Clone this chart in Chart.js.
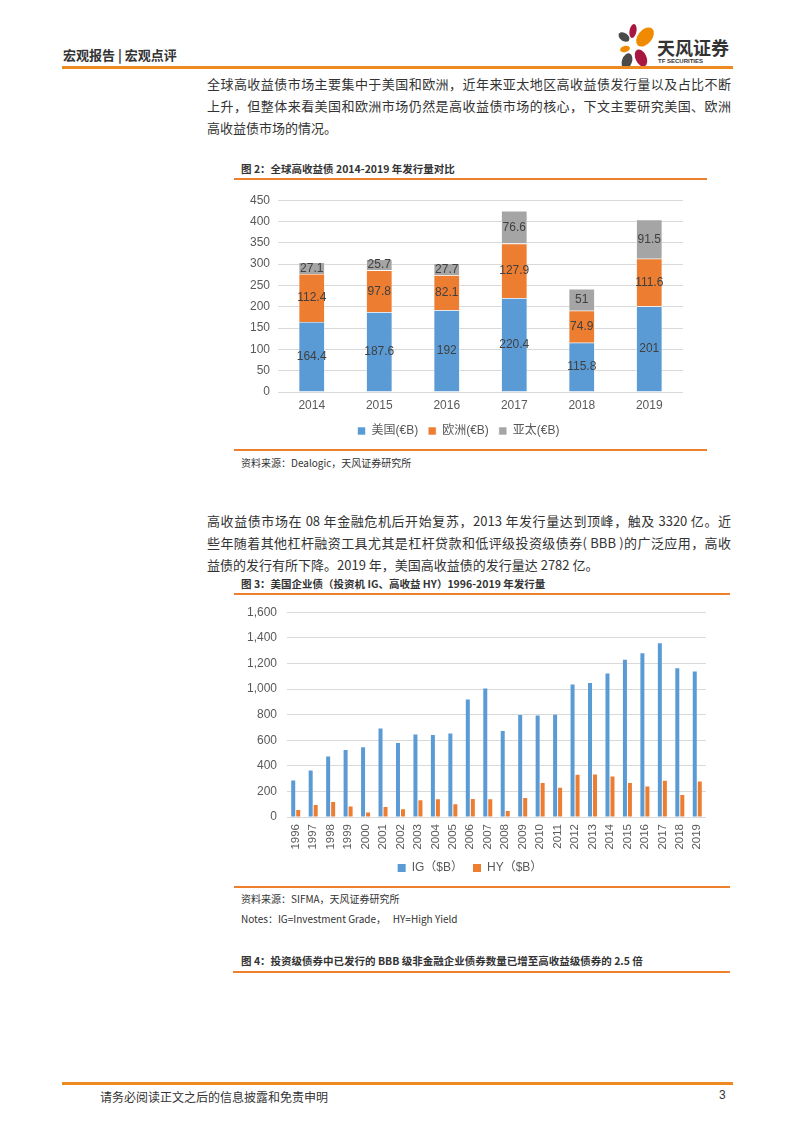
<!DOCTYPE html>
<html>
<head>
<meta charset="utf-8">
<script src="https://cdn.jsdelivr.net/npm/chart.js"></script>
<style>
  body { margin: 0; background: #fff; font-family: "Noto Sans CJK SC", sans-serif; color: #333; }
  #page { position: relative; width: 793px; height: 1122px; overflow: hidden; }
  .abs { position: absolute; }
  .hline { position: absolute; background: #EE7F2D; }
  .p { position: absolute; left: 207px; width: 524px; font-size: 13px; line-height: 22px; white-space: nowrap; }
  .j { text-align: justify; text-align-last: justify; white-space: normal; }
  .ttl { position: absolute; left: 241px; font-size: 10.5px; font-weight: bold; color: #333; white-space: nowrap; }
  .src { position: absolute; left: 241px; font-size: 10px; color: #333; white-space: nowrap; }
  canvas { position: absolute; }
</style>
</head>
<body>
<div id="page">
  <!-- header -->
  <div class="abs" style="left:63px;top:45px;font-size:13px;font-weight:bold;color:#333;">宏观报告 | 宏观点评</div>
  <svg class="abs" style="left:612px;top:22px" width="50" height="50">
    <ellipse cx="21" cy="9" rx="3.5" ry="7" fill="#A8173F" transform="rotate(10 21 9)"/>
    <ellipse cx="33" cy="15" rx="7" ry="11" fill="#F08A00" transform="rotate(40 33 15)"/>
    <ellipse cx="12" cy="15" rx="6" ry="4" fill="#4A4A4A" transform="rotate(35 12 15)"/>
    <ellipse cx="13" cy="27" rx="5" ry="3" fill="#F08A00" transform="rotate(-15 13 27)"/>
    <ellipse cx="29" cy="36" rx="5.5" ry="9" fill="#A8173F" transform="rotate(-25 29 36)"/>
    <ellipse cx="15" cy="39" rx="5" ry="8" fill="#4A4A4A" transform="rotate(20 15 39)"/>
  </svg>
  <div class="abs" style="left:657px;top:34px;font-size:18px;font-weight:bold;color:#333;">天风证券</div>
  <div class="abs" style="left:658px;top:58px;font-size:6px;font-weight:bold;color:#333;font-family:'Liberation Sans',sans-serif;">TF SECURITIES</div>
  <div class="hline" style="left:62px;top:66px;width:671px;height:3px;background:#EE8A1F;"></div>

  <!-- paragraph 1 -->
  <div class="p j" style="top:73px;">全球高收益债市场主要集中于美国和欧洲，近年来亚太地区高收益债发行量以及占比不断</div>
  <div class="p j" style="top:95px;">上升，但整体来看美国和欧洲市场仍然是高收益债市场的核心，下文主要研究美国、欧洲</div>
  <div class="p" style="top:117px;">高收益债市场的情况。</div>

  <!-- figure 2 -->
  <div class="ttl" style="top:161px;">图 2：全球高收益债 2014-2019 年发行量对比</div>
  <div class="hline" style="left:234px;top:178px;width:473px;height:1.5px;"></div>
  <canvas id="chart1" style="left:234px;top:185px;" width="473" height="262"></canvas>
  <div class="hline" style="left:234px;top:449px;width:473px;height:1.5px;"></div>
  <div class="src" style="top:455px;">资料来源：Dealogic，天风证券研究所</div>

  <!-- paragraph 2 -->
  <div class="p j" style="top:510px;">高收益债市场在 08 年金融危机后开始复苏，2013 年发行量达到顶峰，触及 3320 亿。近</div>
  <div class="p j" style="top:532px;">些年随着其他杠杆融资工具尤其是杠杆贷款和低评级投资级债券( BBB )的广泛应用，高收</div>
  <div class="p" style="top:554px;">益债的发行有所下降。2019 年，美国高收益债的发行量达 2782 亿。</div>

  <!-- figure 3 -->
  <div class="ttl" style="top:576px;">图 3：美国企业债（投资机 IG、高收益 HY）1996-2019 年发行量</div>
  <div class="hline" style="left:234px;top:593px;width:496px;height:1.5px;"></div>
  <canvas id="chart2" style="left:234px;top:595px;" width="496" height="289"></canvas>
  <div class="hline" style="left:234px;top:886px;width:496px;height:1.5px;"></div>
  <div class="src" style="top:891px;">资料来源：SIFMA，天风证券研究所</div>
  <div class="src" style="top:911px;">Notes：IG=Investment Grade，&nbsp;&nbsp;&nbsp;HY=High Yield</div>

  <!-- figure 4 title -->
  <div class="ttl" style="top:953px;">图 4：投资级债券中已发行的 BBB 级非金融企业债券数量已增至高收益级债券的 2.5 倍</div>
  <div class="hline" style="left:233px;top:971px;width:497px;height:1.5px;"></div>

  <!-- footer -->
  <div class="hline" style="left:62px;top:1082px;width:671px;height:3px;background:#EE8A1F;"></div>
  <div class="abs" style="left:100px;top:1088px;font-size:12px;color:#333;">请务必阅读正文之后的信息披露和免责申明</div>
  <div class="abs" style="left:719px;top:1088px;font-size:12px;color:#333;font-family:'Liberation Sans',sans-serif;">3</div>
</div>

<script>
// 图2 数据
var years_1 = ['2014', '2015', '2016', '2017', '2018', '2019'];
var my = [164.4, 187.6, 192, 220.4, 115.8, 201];
var oz = [112.4, 97.8, 82.1, 127.9, 74.9, 111.6];
var yt = [27.1, 25.7, 27.7, 76.6, 51, 91.5];

// 图3 数据
var years_2 = ['1996','1997','1998','1999','2000','2001','2002','2003','2004','2005','2006','2007',
               '2008','2009','2010','2011','2012','2013','2014','2015','2016','2017','2018','2019'];
var ig = [286, 364, 473, 523, 544, 692, 578, 645, 640, 653, 918, 1004,
          671, 796, 793, 799, 1035, 1046, 1121, 1228, 1280, 1358, 1163, 1137];
var hy = [55, 94, 117, 83, 36, 78, 60, 130, 138, 99, 140, 138,
          47, 148, 265, 229, 331, 332, 317, 265, 239, 283, 172, 278];

Chart.defaults.font.family = "'Liberation Sans', 'Noto Sans CJK SC', sans-serif";
Chart.defaults.color = '#595959';
Chart.defaults.animation = false;

// so lieu tren cot
var nhan_cot = {
    id: 'nhan_cot',
    afterDatasetsDraw: function(chart){
        var ctx = chart.ctx;
        ctx.save();
        ctx.font = "12px 'Liberation Sans', sans-serif";
        ctx.fillStyle = '#404040';
        ctx.textAlign = 'center';
        ctx.textBaseline = 'middle';
        chart.data.datasets.forEach(function(ds, i){
            chart.getDatasetMeta(i).data.forEach(function(bar, j){
                ctx.fillText(String(ds.data[j]), bar.x, (bar.y + bar.base) / 2);
            });
        });
        ctx.restore();
    }
};

var bieudo_1 = new Chart(document.getElementById('chart1').getContext('2d'), {
    type: 'bar',
    data: {
        labels: years_1,
        datasets: [
            { label: '美国(€B)', data: my, backgroundColor: '#5B9BD5', borderColor: '#ffffff', borderWidth: 0.6 },
            { label: '欧洲(€B)', data: oz, backgroundColor: '#ED7D31', borderColor: '#ffffff', borderWidth: 0.6 },
            { label: '亚太(€B)', data: yt, backgroundColor: '#A5A5A5', borderColor: '#ffffff', borderWidth: 0.6 }
        ]
    },
    options: {
        responsive: false,
        layout: { padding: { top: 10, right: 24, left: 0, bottom: 0 } },
        categoryPercentage: 1,
        barPercentage: 0.385,
        plugins: {
            legend: {
                position: 'bottom',
                labels: { boxWidth: 8, boxHeight: 8, padding: 10, font: { size: 12 }, color: '#595959' }
            },
            tooltip: { enabled: false }
        },
        scales: {
            x: {
                stacked: true,
                grid: { display: false, drawTicks: false },
                border: { display: false },
                ticks: { padding: 6, font: { size: 12 } },
                afterFit: function(s){ s.height = 23; }
            },
            y: {
                stacked: true,
                min: 0, max: 450,
                ticks: { stepSize: 50, padding: 8, font: { size: 12 } },
                grid: { color: '#D9D9D9', drawTicks: false },
                border: { display: false },
                afterFit: function(s){ s.width = 44; }
            }
        }
    },
    plugins: [nhan_cot]
});

var bieudo_2 = new Chart(document.getElementById('chart2').getContext('2d'), {
    type: 'bar',
    data: {
        labels: years_2,
        datasets: [
            { label: 'IG（$B）', data: ig, backgroundColor: '#5B9BD5' },
            { label: 'HY（$B）', data: hy, backgroundColor: '#ED7D31' }
        ]
    },
    options: {
        responsive: false,
        layout: { padding: { top: 8, right: 24, left: 0, bottom: 0 } },
        categoryPercentage: 0.573,
        barPercentage: 0.8,
        plugins: {
            legend: {
                position: 'bottom',
                labels: { boxWidth: 8, boxHeight: 8, padding: 10, font: { size: 12 }, color: '#595959' }
            },
            tooltip: { enabled: false }
        },
        scales: {
            x: {
                grid: { display: false, drawTicks: false },
                border: { display: false },
                ticks: { autoSkip: false, minRotation: 90, maxRotation: 90, padding: 7, font: { size: 11.5 } },
                afterFit: function(s){ s.height = 35; }
            },
            y: {
                min: 0, max: 1600,
                ticks: {
                    stepSize: 200, padding: 10, font: { size: 12 },
                    callback: function(v){ return v.toLocaleString('en-US'); }
                },
                grid: { color: '#D9D9D9', drawTicks: false },
                border: { display: false },
                afterFit: function(s){ s.width = 53; }
            }
        }
    }
});
</script>
</body>
</html>
